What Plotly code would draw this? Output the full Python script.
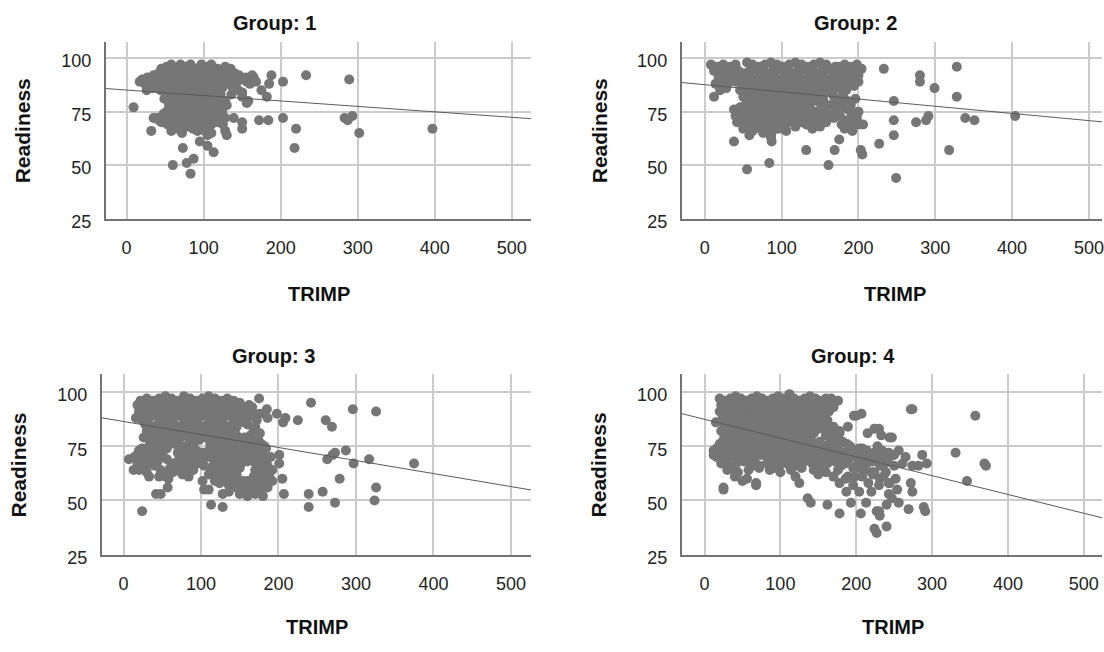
import plotly.graph_objects as go

# TRIMP (x) vs Readiness (y) for each training group
g1_points = [
    (9, 77), (60, 50), (83, 46), (78, 51), (87, 53), (73, 58), (32, 66), (35, 72),
    (95, 61), (105, 59), (113, 56), (105, 64), (128, 66), (130, 64), (139, 72),
    (150, 70), (150, 67), (172, 71), (184, 71), (203, 72), (220, 67), (218, 58),
    (233, 92), (203, 89), (188, 92), (185, 88), (182, 82), (175, 85), (165, 91),
    (156, 89), (150, 84), (156, 79), (135, 95), (289, 90), (283, 72), (287, 71),
    (293, 73), (302, 65), (397, 67),
    (45, 95), (52, 96), (58, 97), (63, 95), (70, 97), (76, 96), (83, 97), (90, 95),
    (97, 97), (104, 96), (110, 97), (118, 95), (128, 96),
    (48, 94), (56, 94), (66, 94), (74, 93), (82, 94), (90, 94), (100, 94), (108, 93),
    (116, 94), (124, 94), (140, 93),
    (20, 90), (27, 91), (35, 92), (42, 93), (50, 92), (57, 93), (64, 91), (72, 93),
    (79, 92), (86, 93), (93, 91), (100, 93), (108, 92), (115, 93), (122, 91),
    (130, 93), (138, 91), (146, 92), (155, 91), (163, 92),
    (23, 90), (31, 90), (38, 90), (46, 90), (54, 90), (62, 90), (70, 90), (78, 90),
    (86, 90), (94, 90), (102, 90), (110, 90), (118, 90), (126, 90), (134, 90),
    (150, 90), (158, 90),
    (17, 89), (24, 88), (31, 89), (39, 87), (47, 89), (54, 88), (61, 89), (68, 87),
    (75, 89), (82, 88), (89, 89), (96, 87), (103, 89), (110, 88), (117, 89),
    (124, 87), (132, 89), (142, 88), (160, 88), (168, 89),
    (28, 87), (36, 87), (50, 87), (58, 87), (66, 87), (74, 87), (82, 87), (90, 87),
    (98, 87), (106, 87), (114, 87), (120, 87), (136, 87),
    (26, 85), (34, 86), (44, 85), (52, 86), (60, 84), (67, 86), (74, 85), (81, 86),
    (88, 84), (95, 86), (102, 85), (109, 86), (116, 84), (124, 86), (145, 85),
    (54, 83), (62, 83), (70, 83), (78, 84), (86, 83), (94, 83), (102, 83), (110, 84),
    (122, 83), (136, 83),
    (49, 81), (60, 82), (66, 80), (73, 82), (80, 81), (87, 82), (94, 80), (101, 82),
    (108, 81), (118, 82), (128, 80), (150, 82), (158, 80),
    (58, 80), (76, 79), (90, 80), (104, 79), (115, 80), (124, 79),
    (55, 78), (63, 77), (70, 78), (77, 76), (84, 78), (91, 77), (98, 78), (105, 76),
    (113, 78), (121, 77), (130, 78),
    (52, 75), (60, 75), (68, 75), (80, 75), (88, 75), (96, 75), (110, 75), (118, 75),
    (124, 75),
    (40, 72), (48, 74), (56, 73), (64, 74), (71, 73), (78, 74), (85, 72), (92, 74),
    (99, 73), (106, 74), (113, 72), (120, 74), (128, 72),
    (42, 71), (50, 71), (58, 71), (70, 71), (78, 71), (86, 71), (94, 71), (100, 71),
    (108, 71), (116, 71),
    (45, 70), (53, 69), (60, 70), (67, 68), (74, 70), (82, 69), (89, 70), (96, 68),
    (103, 70), (110, 69), (118, 70), (125, 69),
    (62, 68), (78, 68), (98, 67), (106, 68),
    (58, 66), (66, 67), (72, 65), (86, 67), (92, 66), (102, 66), (110, 65),
]

g2_points = [
    (12, 82), (38, 61), (55, 48), (84, 51), (86, 63), (87, 61), (132, 57), (161, 50),
    (169, 57), (175, 62), (192, 66), (203, 57), (205, 55), (227, 60), (233, 95),
    (246, 80), (246, 71), (246, 64), (249, 44), (275, 70), (288, 71), (291, 73),
    (280, 92), (280, 89), (299, 86), (328, 96), (328, 82), (318, 57), (339, 72),
    (351, 71), (404, 73),
    (8, 97), (16, 96), (24, 97), (32, 96), (40, 97), (55, 98), (62, 97), (70, 96),
    (78, 97), (86, 98), (94, 97), (102, 96), (110, 97), (118, 98), (126, 97),
    (134, 96), (142, 97), (150, 98), (158, 97), (174, 96), (182, 97), (190, 96),
    (198, 97),
    (60, 95), (74, 96), (90, 95), (106, 96), (122, 95), (138, 96), (154, 95),
    (170, 96), (186, 95),
    (12, 94), (20, 93), (28, 94), (36, 95), (44, 94), (52, 93), (60, 94), (68, 95),
    (76, 94), (84, 93), (92, 94), (100, 95), (108, 94), (116, 93), (124, 94),
    (132, 95), (140, 94), (148, 93), (156, 94), (164, 95), (176, 94), (186, 93),
    (196, 94), (204, 95),
    (24, 92), (40, 93), (56, 92), (72, 93), (88, 92), (104, 93), (120, 92),
    (136, 93), (152, 92), (168, 93), (184, 92), (200, 92),
    (18, 91), (26, 90), (34, 91), (44, 92), (56, 91), (64, 90), (72, 91), (80, 92),
    (88, 91), (96, 90), (104, 91), (112, 92), (120, 91), (128, 90), (136, 91),
    (144, 92), (152, 91), (160, 90), (170, 91), (182, 92), (192, 91),
    (48, 89), (64, 90), (80, 89), (96, 90), (112, 89), (128, 90), (144, 89),
    (160, 90), (176, 89),
    (14, 88), (22, 87), (30, 88), (40, 89), (52, 88), (60, 87), (68, 88), (76, 89),
    (84, 88), (92, 87), (100, 88), (108, 89), (116, 88), (124, 87), (132, 88),
    (140, 89), (148, 88), (156, 87), (166, 88), (178, 89), (188, 88), (200, 89),
    (52, 86), (68, 87), (84, 86), (100, 87), (116, 86), (132, 87), (148, 86),
    (164, 87), (180, 86), (194, 87),
    (20, 85), (28, 86), (46, 85), (56, 84), (64, 85), (72, 86), (80, 85), (88, 84),
    (96, 85), (104, 86), (112, 85), (120, 84), (128, 85), (136, 86), (144, 85),
    (152, 84), (160, 85), (172, 86), (184, 85),
    (56, 83), (70, 84), (86, 83), (102, 84), (118, 83), (134, 84), (150, 83),
    (164, 84),
    (50, 82), (58, 81), (66, 82), (74, 83), (82, 82), (90, 81), (98, 82),
    (106, 83), (114, 82), (122, 81), (130, 82), (138, 83), (146, 82), (154, 81),
    (168, 82), (180, 83), (196, 81),
    (58, 80), (74, 81), (90, 80), (106, 81), (154, 80), (170, 81), (186, 80),
    (54, 79), (62, 78), (70, 79), (78, 80), (86, 79), (94, 78), (102, 79), (110, 80),
    (118, 79), (126, 78), (134, 79), (142, 80), (150, 79), (162, 78), (176, 79),
    (190, 78),
    (46, 77), (62, 78), (78, 77), (94, 78), (110, 77), (158, 78), (182, 77),
    (38, 76), (50, 75), (58, 76), (66, 77), (74, 76), (82, 75), (90, 76), (98, 77),
    (106, 76), (114, 75), (122, 76), (130, 77), (138, 76), (146, 75), (156, 76),
    (172, 77), (186, 76), (200, 75),
    (44, 74), (60, 75), (76, 74), (92, 75), (108, 74), (124, 75), (140, 74),
    (156, 75), (168, 74), (190, 75),
    (40, 73), (48, 72), (56, 73), (64, 74), (72, 73), (80, 72), (88, 73), (96, 74),
    (104, 73), (112, 72), (120, 73), (128, 74), (136, 73), (144, 72), (152, 73),
    (160, 74), (176, 73), (194, 72),
    (46, 71), (64, 72), (80, 71), (96, 72), (112, 71), (128, 72), (144, 71),
    (168, 72), (184, 71), (198, 72),
    (42, 70), (52, 71), (60, 70), (68, 69), (76, 70), (84, 71), (92, 70), (100, 69),
    (108, 70), (116, 71), (124, 70), (132, 69), (140, 70), (150, 71), (158, 70),
    (178, 69), (190, 70), (206, 69),
    (56, 68), (70, 69), (86, 68), (102, 69), (118, 68), (134, 69), (150, 68),
    (186, 68), (200, 69),
    (50, 67), (62, 66), (72, 67), (80, 68), (88, 66), (96, 67), (106, 66),
    (140, 67), (182, 67), (58, 64), (76, 65), (86, 64),
]

g3_points = [
    (7, 69), (13, 64), (24, 45), (33, 61), (42, 53), (48, 53), (55, 61), (57, 56),
    (102, 59), (104, 55), (113, 48), (128, 47), (118, 59), (128, 53), (136, 54),
    (175, 97), (185, 92), (186, 88), (198, 90), (209, 88), (206, 86), (225, 87),
    (242, 95), (201, 71), (201, 67), (205, 60), (207, 53), (239, 53), (239, 47),
    (261, 87), (269, 84), (296, 92), (326, 91), (263, 69), (270, 71), (273, 72),
    (287, 73), (297, 67), (317, 69), (375, 67), (279, 60), (257, 54), (273, 49),
    (326, 56), (324, 50),
    (22, 96), (30, 97), (38, 96), (46, 97), (54, 98), (62, 97), (70, 96), (78, 98),
    (86, 97), (94, 96), (102, 97), (110, 98), (118, 97), (126, 96), (134, 97),
    (142, 96),
    (26, 95), (42, 96), (58, 95), (74, 96), (90, 95), (106, 96), (122, 95),
    (138, 96), (150, 95),
    (18, 94), (26, 93), (34, 94), (42, 95), (50, 94), (58, 93), (66, 94), (74, 95),
    (82, 94), (90, 93), (98, 94), (106, 95), (114, 94), (122, 93), (130, 94),
    (138, 95), (146, 94), (154, 93), (162, 94),
    (22, 92), (38, 93), (54, 92), (70, 93), (86, 92), (102, 93), (118, 92),
    (134, 93), (150, 92), (166, 93),
    (20, 91), (28, 90), (36, 91), (44, 92), (52, 91), (60, 90), (68, 91), (76, 92),
    (84, 91), (92, 90), (100, 91), (108, 92), (116, 91), (124, 90), (132, 91),
    (140, 92), (148, 91), (156, 90), (166, 91), (176, 90),
    (20, 89), (36, 90), (52, 89), (68, 90), (84, 89), (100, 90), (116, 89),
    (132, 90), (148, 89), (164, 90),
    (16, 88), (24, 87), (32, 88), (40, 89), (48, 88), (56, 87), (64, 88), (72, 89),
    (80, 88), (88, 87), (96, 88), (104, 89), (112, 88), (120, 87), (128, 88),
    (136, 89), (144, 88), (152, 87), (160, 88), (172, 87),
    (32, 86), (48, 87), (64, 86), (80, 87), (96, 86), (112, 87), (128, 86),
    (144, 87), (156, 86),
    (28, 85), (36, 84), (44, 85), (52, 86), (60, 85), (68, 84), (76, 85), (84, 86),
    (92, 85), (100, 84), (108, 85), (116, 86), (124, 85), (132, 84), (140, 85),
    (148, 86), (160, 85), (170, 84),
    (34, 83), (50, 84), (66, 83), (82, 84), (98, 83), (114, 84), (130, 83),
    (146, 84),
    (30, 82), (38, 81), (46, 82), (54, 83), (62, 82), (70, 81), (78, 82), (86, 83),
    (94, 82), (102, 81), (110, 82), (118, 83), (126, 82), (134, 81), (142, 82),
    (168, 83), (176, 81),
    (30, 80), (46, 81), (62, 80), (78, 81), (94, 80), (110, 81), (126, 80),
    (142, 81), (164, 80),
    (26, 79), (34, 78), (42, 79), (50, 80), (58, 79), (66, 78), (74, 79), (82, 80),
    (90, 79), (98, 78), (106, 79), (114, 80), (122, 79), (130, 78), (138, 79),
    (146, 80), (156, 79), (174, 78),
    (38, 77), (54, 78), (70, 77), (88, 78), (116, 77), (132, 78), (148, 77),
    (164, 78),
    (34, 76), (42, 75), (50, 76), (58, 77), (66, 76), (74, 75), (84, 76), (92, 77),
    (112, 76), (120, 75), (128, 76), (136, 77), (144, 76), (152, 75), (160, 76),
    (168, 77), (178, 76),
    (24, 74), (40, 75), (56, 74), (74, 75), (90, 74), (120, 75), (136, 74),
    (152, 75), (170, 74), (182, 75),
    (20, 73), (28, 72), (36, 73), (44, 74), (52, 73), (70, 72), (78, 73), (86, 74),
    (94, 73), (102, 72), (110, 73), (118, 74), (126, 73), (134, 72), (142, 73),
    (150, 74), (158, 73), (166, 72), (174, 73), (184, 74),
    (18, 71), (34, 72), (44, 71), (80, 72), (96, 71), (112, 72), (128, 71),
    (144, 72), (160, 71), (176, 72),
    (14, 70), (22, 69), (30, 70), (40, 71), (48, 70), (56, 69), (76, 70), (84, 71),
    (92, 70), (100, 69), (108, 70), (116, 71), (124, 70), (132, 69), (140, 70),
    (148, 71), (156, 70), (164, 69), (172, 70), (180, 71), (190, 70),
    (22, 68), (38, 69), (70, 68), (86, 69), (100, 68), (116, 69), (132, 68),
    (148, 69), (160, 68), (172, 69), (184, 68),
    (18, 67), (26, 66), (34, 67), (44, 68), (64, 67), (72, 66), (80, 67), (88, 68),
    (96, 67), (104, 66), (120, 67), (128, 68), (136, 67), (144, 66), (152, 67),
    (168, 68), (176, 67), (186, 66),
    (26, 65), (40, 66), (66, 65), (86, 66), (118, 65), (134, 66), (150, 65),
    (174, 66), (184, 65),
    (20, 64), (30, 63), (48, 64), (60, 65), (70, 64), (80, 63), (90, 64), (112, 65),
    (124, 64), (132, 63), (140, 64), (148, 65), (170, 64), (180, 63), (192, 64),
    (52, 62), (64, 63), (76, 62), (116, 63), (128, 62), (144, 63), (172, 62),
    (186, 63),
    (46, 61), (58, 60), (84, 61), (110, 62), (120, 61), (130, 60), (138, 61),
    (146, 62), (168, 61), (178, 60), (188, 61),
    (130, 59), (142, 60), (160, 59), (170, 60), (182, 59),
    (124, 58), (136, 57), (146, 58), (154, 59), (164, 58), (174, 57), (184, 58),
    (192, 59),
    (110, 55), (146, 56), (156, 55), (166, 54), (176, 55), (186, 56),
    (150, 53), (160, 52), (170, 53), (180, 52),
]

g4_points = [
    (25, 56), (25, 55), (50, 59), (68, 58), (68, 57), (125, 58), (136, 51), (140, 49),
    (162, 48), (178, 44), (12, 71), (15, 86), (200, 89), (207, 90), (224, 37),
    (227, 35), (240, 38), (187, 54), (193, 49), (204, 54), (206, 44), (213, 49),
    (220, 54), (227, 45), (231, 43), (240, 48), (243, 53), (189, 61), (198, 61),
    (206, 66), (220, 63), (231, 60), (244, 58), (272, 92), (274, 92), (357, 89),
    (331, 72), (369, 67), (371, 66), (346, 59), (289, 47), (291, 45), (269, 46),
    (230, 45), (247, 79), (230, 83), (287, 71), (293, 67), (282, 66), (272, 58),
    (274, 54), (252, 60), (254, 55), (247, 51), (256, 49), (239, 63), (243, 58),
    (230, 73), (243, 72), (256, 73), (265, 70), (237, 67), (250, 66), (261, 67),
    (274, 66), (178, 82), (189, 84), (197, 89), (215, 81), (224, 83), (233, 80),
    (244, 79),
    (20, 97), (27, 96), (34, 97), (41, 98), (48, 97), (55, 96), (62, 97), (69, 98),
    (76, 97), (83, 96), (90, 97), (97, 98), (104, 97), (112, 99), (118, 97),
    (125, 96), (132, 97), (139, 98), (146, 97), (153, 96), (160, 97), (167, 97),
    (176, 96),
    (24, 95), (38, 96), (52, 95), (66, 96), (80, 95), (94, 96), (108, 95),
    (122, 96), (136, 95), (150, 96), (164, 95),
    (22, 94), (30, 93), (38, 94), (46, 95), (54, 94), (62, 93), (70, 94), (78, 95),
    (86, 94), (94, 93), (102, 94), (110, 95), (118, 94), (126, 93), (134, 94),
    (142, 95), (150, 94), (158, 93), (166, 94),
    (26, 92), (42, 93), (58, 92), (74, 93), (90, 92), (106, 93), (122, 92),
    (138, 93), (154, 92), (170, 93),
    (20, 91), (28, 90), (36, 91), (44, 92), (52, 91), (60, 90), (68, 91), (76, 92),
    (84, 91), (92, 90), (100, 91), (108, 92), (116, 91), (124, 90), (132, 91),
    (140, 92), (148, 91), (156, 90), (164, 91),
    (24, 89), (40, 90), (56, 89), (72, 90), (88, 89), (104, 90), (120, 89),
    (136, 90), (152, 89),
    (24, 88), (32, 87), (40, 88), (48, 89), (56, 88), (64, 87), (72, 88), (80, 89),
    (88, 88), (96, 87), (104, 88), (112, 89), (120, 88), (128, 87), (136, 88),
    (144, 89), (152, 88), (162, 87),
    (30, 86), (46, 87), (62, 86), (78, 87), (94, 86), (110, 87), (126, 86),
    (142, 87), (160, 86),
    (26, 85), (34, 84), (42, 85), (50, 86), (58, 85), (66, 84), (74, 85), (82, 86),
    (90, 85), (98, 84), (106, 85), (114, 86), (122, 85), (130, 84), (138, 85),
    (146, 86), (156, 85), (170, 84),
    (26, 83), (42, 84), (58, 83), (74, 84), (90, 83), (106, 84), (122, 83),
    (138, 84), (158, 83),
    (22, 82), (30, 81), (38, 82), (46, 83), (54, 82), (62, 81), (70, 82), (78, 83),
    (86, 82), (94, 81), (102, 82), (110, 83), (118, 82), (126, 81), (134, 82),
    (150, 83), (166, 82), (178, 81),
    (30, 80), (46, 81), (62, 80), (78, 81), (94, 80), (110, 81), (126, 80),
    (144, 81), (168, 80),
    (26, 79), (34, 78), (42, 79), (50, 80), (58, 79), (66, 78), (74, 79), (82, 80),
    (90, 79), (98, 78), (106, 79), (114, 80), (122, 79), (130, 78), (140, 79),
    (160, 80), (172, 79),
    (24, 77), (40, 78), (56, 77), (72, 78), (88, 77), (104, 78), (120, 77),
    (136, 78), (152, 77), (168, 78), (182, 77),
    (20, 76), (28, 75), (36, 76), (44, 77), (52, 76), (60, 75), (68, 76), (76, 77),
    (84, 76), (92, 75), (100, 76), (108, 77), (116, 76), (124, 75), (132, 76),
    (140, 77), (148, 76), (156, 75), (164, 76), (176, 77), (188, 76),
    (16, 74), (32, 75), (48, 74), (64, 75), (80, 74), (96, 75), (112, 74),
    (128, 75), (144, 74), (160, 75), (176, 74), (192, 75), (208, 74), (228, 75),
    (12, 73), (22, 72), (30, 73), (38, 74), (46, 73), (54, 72), (62, 73), (70, 74),
    (78, 73), (86, 72), (94, 73), (102, 74), (110, 73), (118, 72), (126, 73),
    (134, 74), (142, 73), (150, 72), (158, 73), (166, 74), (174, 73), (184, 72),
    (194, 73), (204, 74), (214, 73), (224, 72), (234, 73),
    (20, 71), (38, 72), (54, 71), (70, 72), (86, 71), (102, 72), (118, 71),
    (134, 72), (150, 71), (166, 72), (182, 71), (196, 72), (216, 71), (236, 72),
    (246, 71),
    (16, 70), (26, 69), (34, 70), (42, 71), (50, 70), (58, 69), (66, 70), (74, 71),
    (82, 70), (90, 69), (98, 70), (106, 71), (114, 70), (122, 69), (130, 70),
    (138, 71), (146, 70), (154, 69), (162, 70), (170, 71), (180, 70), (190, 69),
    (200, 70), (210, 71), (220, 70), (230, 69), (240, 70), (250, 71),
    (26, 68), (46, 69), (66, 68), (86, 69), (106, 68), (126, 69), (146, 68),
    (166, 69), (186, 68), (206, 69), (222, 68), (242, 69),
    (22, 67), (32, 66), (42, 67), (52, 68), (62, 67), (72, 66), (82, 67), (92, 68),
    (102, 67), (112, 66), (122, 67), (132, 68), (142, 67), (152, 66), (162, 67),
    (172, 68), (186, 67), (200, 66), (214, 67), (226, 68), (238, 67),
    (36, 65), (64, 66), (92, 65), (120, 66), (150, 65), (180, 66), (204, 65),
    (232, 66),
    (30, 64), (44, 63), (58, 64), (72, 65), (86, 64), (100, 63), (114, 64),
    (128, 65), (144, 64), (160, 63), (176, 64), (196, 65), (210, 64), (224, 63),
    (40, 61), (56, 60), (120, 61), (150, 62), (170, 61), (186, 60), (208, 61),
    (222, 62), (236, 61),
    (178, 58), (196, 57), (216, 58), (230, 57),
]

group_points = [g1_points, g2_points, g3_points, g4_points]
group_names = ["1", "2", "3", "4"]

# Linear fit (Readiness = intercept + slope * TRIMP) per group
fit_intercept = [85.1, 87.6, 86.4, 87.4]
fit_slope = [-0.0255, -0.0336, -0.060, -0.0866]

x_ticks = [0, 100, 200, 300, 400, 500]
y_ticks = [25, 50, 75, 100]

W, H = 1104, 652

# Panel geometry in pixels: plot box, axis ranges and label anchors
panels = [
    dict(x0=106, x1=532, y0=43, y1=223, xr=[-27, 525], yr=[25, 107.5],
         tx=275, ty=23, ylx=22, xlx=320, xly=300),
    dict(x0=683, x1=1104, y0=43, y1=223, xr=[-30, 517], yr=[25, 107.5],
         tx=857, ty=23, ylx=600, xlx=897, xly=300),
    dict(x0=102, x1=532, y0=382, y1=566, xr=[-28, 526], yr=[25, 108.1],
         tx=274, ty=363, ylx=19, xlx=318, xly=640),
    dict(x0=683, x1=1104, y0=382, y1=566, xr=[-30, 524], yr=[25, 108.1],
         tx=855, ty=363, ylx=600, xlx=895, xly=640),
]

FONT = "Arial, Liberation Sans, sans-serif"
DOT = "#767676"
GRID = "#cbcbcb"
AXIS = "#737373"

fig = go.Figure()
layout = dict(
    width=W, height=H,
    margin=dict(l=0, r=0, t=0, b=0),
    paper_bgcolor="white", plot_bgcolor="white",
    showlegend=False,
    annotations=[],
)


def px_x(p):
    return p / W


def px_y(p):
    return 1 - p / H


for i, (pts, p) in enumerate(zip(group_points, panels)):
    n = "" if i == 0 else str(i + 1)
    xa, ya = "x" + n, "y" + n
    fig.add_trace(go.Scatter(
        x=[q[0] for q in pts], y=[q[1] for q in pts],
        mode="markers", xaxis=xa, yaxis=ya,
        marker=dict(size=10, color=DOT, line=dict(width=0)),
        hoverinfo="x+y",
    ))
    lx = p["xr"]
    fig.add_trace(go.Scatter(
        x=lx, y=[fit_intercept[i] + fit_slope[i] * v for v in lx],
        mode="lines", xaxis=xa, yaxis=ya,
        line=dict(color="#5a5a5a", width=1), hoverinfo="skip",
    ))
    layout["xaxis" + n] = dict(
        domain=[px_x(p["x0"]), px_x(p["x1"])], anchor=ya, range=p["xr"],
        tickvals=x_ticks, showgrid=True, gridcolor=GRID, gridwidth=1.6,
        showline=True, linecolor=AXIS, linewidth=2, zeroline=False,
        ticks="", ticklabelstandoff=12, ticklabeloverflow="allow",
        tickfont=dict(family=FONT, size=18, color="#222222"),
    )
    layout["yaxis" + n] = dict(
        domain=[px_y(p["y1"]), px_y(p["y0"])], anchor=xa, range=p["yr"],
        tickvals=y_ticks, showgrid=True, gridcolor=GRID, gridwidth=1.6,
        showline=True, linecolor=AXIS, linewidth=2, zeroline=False,
        ticks="", ticklabelstandoff=9, ticklabelshift=3,
        tickfont=dict(family=FONT, size=18, color="#222222"),
    )
    mid_y = (p["y0"] + p["y1"]) / 2
    layout["annotations"] += [
        dict(text="<b>Group: %s</b>" % group_names[i], x=px_x(p["tx"]), y=px_y(p["ty"]),
             xref="paper", yref="paper", showarrow=False, xanchor="center", yanchor="middle",
             font=dict(family=FONT, size=20, color="#111111")),
        dict(text="<b>Readiness</b>", x=px_x(p["ylx"]), y=px_y(mid_y), textangle=-90,
             xref="paper", yref="paper", showarrow=False, xanchor="center", yanchor="middle",
             font=dict(family=FONT, size=21, color="#111111")),
        dict(text="<b>TRIMP</b>", x=px_x(p["xlx"]), y=px_y(p["xly"]),
             xref="paper", yref="paper", showarrow=False, xanchor="center", yanchor="middle",
             font=dict(family=FONT, size=20, color="#111111")),
    ]

fig.update_layout(**layout)
fig.write_html("out.html")
